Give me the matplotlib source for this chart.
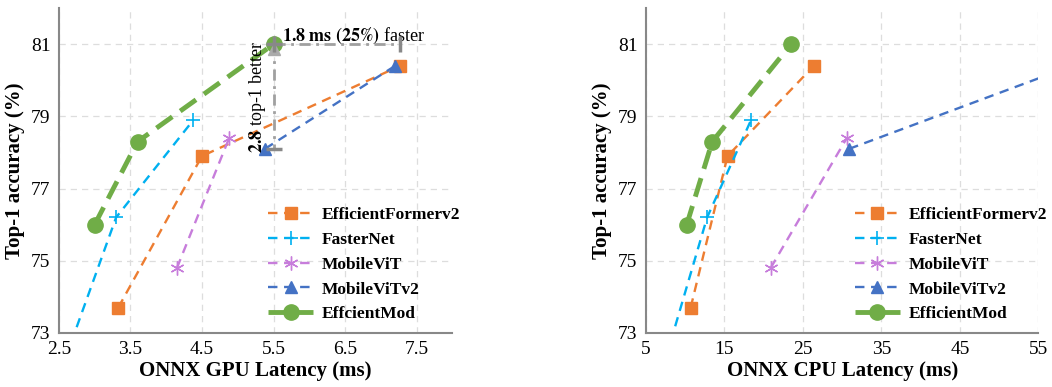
import matplotlib.pyplot as plt

plt.rcParams['font.family'] = ['Liberation Serif', 'DejaVu Serif']

# series names
names_gpu = ['EfficientFormerv2', 'FasterNet', 'MobileViT', 'MobileViTv2', 'EffcientMod']
names_cpu = ['EfficientFormerv2', 'FasterNet', 'MobileViT', 'MobileViTv2', 'EfficientMod']

# GPU latency (ms) / top-1 (%)
gpu_effv2_x = [3.33, 4.5, 7.27]
gpu_effv2_y = [73.7, 77.9, 80.4]
gpu_fast_x = [2.52, 3.3, 4.38]
gpu_fast_y = [71.9, 76.2, 78.9]
gpu_mvit_x = [4.15, 4.88]
gpu_mvit_y = [74.8, 78.4]
gpu_mvit2_x = [5.38, 7.2]
gpu_mvit2_y = [78.1, 80.4]
gpu_mod_x = [3.0, 3.6, 5.5]
gpu_mod_y = [76.0, 78.3, 81.0]

# CPU latency (ms) / top-1 (%)
cpu_effv2_x = [10.7, 15.4, 26.4]
cpu_effv2_y = [73.7, 77.9, 80.4]
cpu_fast_x = [7.0, 12.8, 18.4]
cpu_fast_y = [71.9, 76.2, 78.9]
cpu_mvit_x = [20.9, 30.6]
cpu_mvit_y = [74.8, 78.4]
cpu_mvit2_x = [30.9, 59.3]
cpu_mvit2_y = [78.1, 80.4]
cpu_mod_x = [10.2, 13.45, 23.5]
cpu_mod_y = [76.0, 78.3, 81.0]

gpu_ticks = [2.5, 3.5, 4.5, 5.5, 6.5, 7.5]
cpu_ticks = [5, 15, 25, 35, 45, 55]
y_ticks = [73, 75, 77, 79, 81]

c_orange = '#ED7D31'
c_cyan = '#00B0F0'
c_purple = '#C77DDB'
c_blue = '#4472C4'
c_green = '#70AD47'
c_gray = '#a0a0a0'

fig = plt.figure(figsize=(10.52, 3.87), dpi=100)
ax1 = fig.add_axes([0.056, 0.14, 0.374, 0.839])
ax2 = fig.add_axes([0.614, 0.14, 0.373, 0.839])


def draw(ax, data, names):
    styles = [
        dict(color=c_orange, marker='s', ms=8, lw=1.7, dashes=(4, 2.8)),
        dict(color=c_cyan, marker='+', ms=10, mew=1.2, lw=1.7, dashes=(4, 2.8)),
        dict(color=c_purple, marker=(6, 2, 0), ms=10, mew=1.0, lw=1.7, dashes=(4, 2.8)),
        dict(color=c_blue, marker='^', ms=8, lw=1.7, dashes=(4, 2.8)),
        dict(color=c_green, marker='o', ms=11, lw=3.5, dashes=(4, 2)),
    ]
    for (xs, ys), st, nm in zip(data, styles, names):
        ax.plot(xs, ys, label=nm, **st)
    ax.set_ylim(73, 82)
    ax.set_yticks(y_ticks)
    ax.grid(True, color='#dddddd', linestyle=(0, (5, 4)), lw=0.9)
    ax.set_axisbelow(True)
    for s in ['top', 'right']:
        ax.spines[s].set_visible(False)
    for s in ['left', 'bottom']:
        ax.spines[s].set_color('#888888')
        ax.spines[s].set_linewidth(1.5)
    ax.tick_params(length=0, labelsize=14, pad=6)
    ax.set_ylabel('Top-1 accuracy (%)', fontsize=15, fontweight='bold', labelpad=4)
    ax.legend(loc='center left', bbox_to_anchor=(0.51, 0.21), frameon=False,
              prop={'weight': 'bold', 'size': 12.5}, handlelength=2.6,
              labelspacing=0.5, borderpad=0, handletextpad=0.5)


draw(ax1, [(gpu_effv2_x, gpu_effv2_y), (gpu_fast_x, gpu_fast_y), (gpu_mvit_x, gpu_mvit_y),
           (gpu_mvit2_x, gpu_mvit2_y), (gpu_mod_x, gpu_mod_y)], names_gpu)
ax1.set_xlim(2.5, 8.0)
ax1.set_xticks(gpu_ticks)
ax1.set_xticklabels([str(t) for t in gpu_ticks])
ax1.set_xlabel('ONNX GPU Latency (ms)', fontsize=15, fontweight='bold', labelpad=2)

# annotation: faster / better
ann_x = [gpu_mod_x[-1], gpu_effv2_x[-1]]
ann_y = [gpu_mod_y[-1], gpu_mvit2_y[0]]
ax1.plot([ann_x[0], ann_x[1]], [ann_y[0], ann_y[0]], color=c_gray, lw=2, ls=(0, (4, 2, 1, 2)), zorder=5)
ax1.plot([ann_x[1]], [ann_y[0]], marker='|', ms=12, mew=2.5, color='#888888', zorder=5)
ax1.plot([ann_x[0], ann_x[0]], [ann_y[0], ann_y[1]], color=c_gray, lw=2, ls=(0, (4, 2, 1, 2)), zorder=5)
ax1.plot([ann_x[0]], [ann_y[1]], marker='_', ms=12, mew=2.5, color='#888888', zorder=5)
ax1.plot([ann_x[0]], [ann_y[0] - 0.12], marker='^', ms=9, color='#aaaaaa', zorder=6)
ax1.plot([ann_x[0]], [ann_y[0]], marker='+', ms=12, mew=2.5, color='#888888', zorder=6)
ax1.text(5.62, 81.23, r'$\bf{1.8\ ms\ (25\%)}$ faster', fontsize=13, va='center', ha='left',
         math_fontfamily='stix')
ax1.text(5.27, 79.55, r'$\bf{2.8}$ top-1 better', fontsize=13, va='center', ha='center',
         rotation=90, math_fontfamily='stix')

draw(ax2, [(cpu_effv2_x, cpu_effv2_y), (cpu_fast_x, cpu_fast_y), (cpu_mvit_x, cpu_mvit_y),
           (cpu_mvit2_x, cpu_mvit2_y), (cpu_mod_x, cpu_mod_y)], names_cpu)
ax2.set_xlim(5, 55)
ax2.set_xticks(cpu_ticks)
ax2.set_xlabel('ONNX CPU Latency (ms)', fontsize=15, fontweight='bold', labelpad=2)

fig.savefig('out.png', dpi=100)
